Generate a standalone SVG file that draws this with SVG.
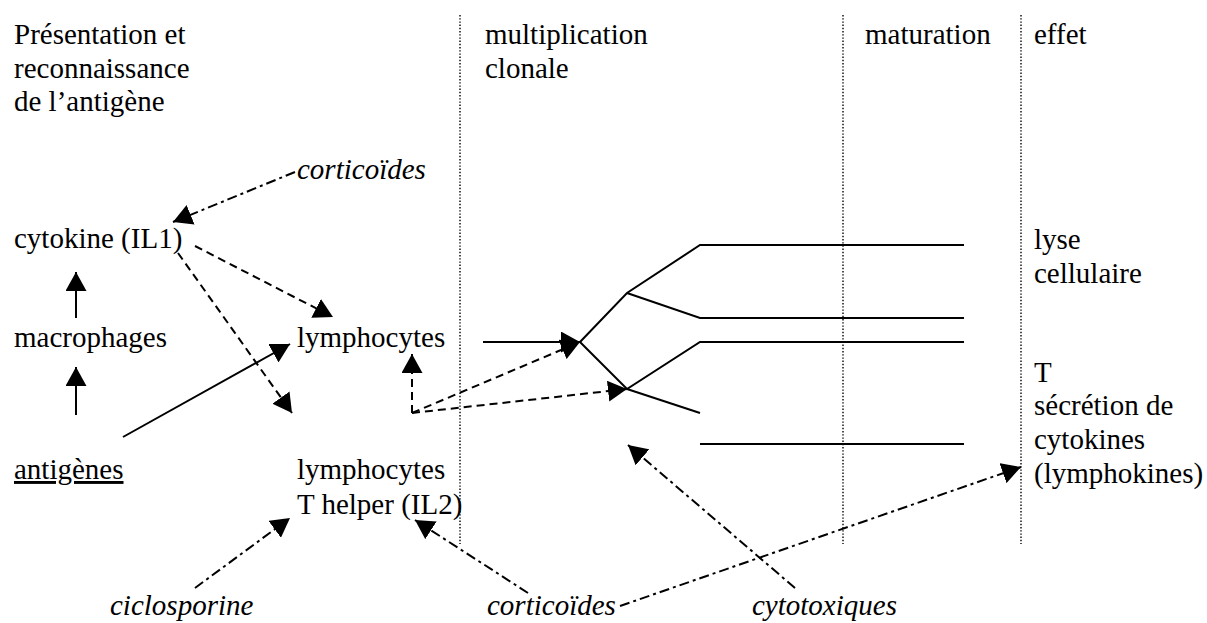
<svg xmlns="http://www.w3.org/2000/svg" width="1207" height="623" viewBox="0 0 1207 623">
<style>
text{font-family:"Liberation Serif","Times New Roman",serif;font-size:29px;fill:#000}
.it{font-style:italic}
.sol{stroke:#000;stroke-width:2;fill:none}
.dash{stroke:#000;stroke-width:2;fill:none;stroke-dasharray:8 5}
.dd{stroke:#000;stroke-width:2;fill:none;stroke-dasharray:10 4 3 4}
.dot{stroke:#000;stroke-width:1.4;fill:none;stroke-dasharray:1.4 1.8}
</style>
<defs>
<marker id="ah" viewBox="0 0 19 21" refX="19" refY="10.5" markerWidth="19" markerHeight="21" markerUnits="userSpaceOnUse" orient="auto">
<path d="M0,0 L19,10.5 L0,21 z" fill="#000"/>
</marker>
</defs>
<rect width="1207" height="623" fill="#fff"/>
<g id="columns">
<line class="dot" x1="460" y1="15" x2="460" y2="544"/>
<line class="dot" x1="843" y1="15" x2="843" y2="544"/>
<line class="dot" x1="1021" y1="15" x2="1021" y2="544"/>
<text x="14" y="44">Présentation et</text>
<text x="14" y="78">reconnaissance</text>
<text x="14" y="111">de l’antigène</text>
<text x="485" y="44">multiplication</text>
<text x="485" y="78">clonale</text>
<text x="865" y="44">maturation</text>
<text x="1034" y="44">effet</text>
</g>
<g id="n-cortico-top"><text class="it" x="297" y="179">corticoïdes</text></g>
<g id="n-cytokine"><text x="14" y="248">cytokine (IL1)</text></g>
<g id="n-macrophages"><text x="14" y="347">macrophages</text></g>
<g id="n-antigenes"><text x="14" y="479" text-decoration="underline">antigènes</text></g>
<g id="n-lymphocytes"><text x="297" y="347">lymphocytes</text></g>
<g id="n-thelper"><text x="297" y="479">lymphocytes</text><text x="297" y="514">T helper (IL2)</text></g>
<g id="n-ciclosporine"><text class="it" x="110" y="615">ciclosporine</text></g>
<g id="n-cortico-bottom"><text class="it" x="487" y="615">corticoïdes</text></g>
<g id="n-cytotoxiques"><text class="it" x="752" y="615">cytotoxiques</text></g>
<g id="n-lyse"><text x="1034" y="249">lyse</text><text x="1034" y="283">cellulaire</text></g>
<g id="n-secretion"><text x="1034" y="382">T</text><text x="1034" y="415">sécrétion de</text><text x="1034" y="449">cytokines</text><text x="1034" y="483">(lymphokines)</text></g>
<g id="connectors">
<line class="sol" x1="76" y1="318" x2="76" y2="272" marker-end="url(#ah)"/>
<line class="sol" x1="76" y1="415" x2="76" y2="367" marker-end="url(#ah)"/>
<line class="sol" x1="123" y1="437" x2="290" y2="344" marker-end="url(#ah)"/>
<line class="dd" x1="295" y1="172" x2="173" y2="222" marker-end="url(#ah)"/>
<line class="dash" x1="195" y1="246" x2="333" y2="317" marker-end="url(#ah)"/>
<line class="dash" x1="178" y1="253" x2="292" y2="413" marker-end="url(#ah)"/>
<line class="dash" x1="412" y1="413" x2="412" y2="354" marker-end="url(#ah)"/>
<line class="dash" x1="412" y1="413" x2="580" y2="342" marker-end="url(#ah)"/>
<line class="dash" x1="412" y1="413" x2="627" y2="389" marker-end="url(#ah)"/>
<line class="sol" x1="483" y1="342" x2="580" y2="342" marker-end="url(#ah)"/>
<polyline class="sol" points="580,342 627,293 700,245 964,245"/>
<polyline class="sol" points="627,293 700,318 964,318"/>
<polyline class="sol" points="580,342 627,389 700,342 964,342"/>
<line class="sol" x1="627" y1="389" x2="700" y2="413"/>
<line class="sol" x1="700" y1="444" x2="964" y2="444"/>
<line class="dd" x1="795" y1="588" x2="628" y2="445" marker-end="url(#ah)"/>
<line class="dd" x1="528" y1="593" x2="415" y2="520" marker-end="url(#ah)"/>
<line class="dd" x1="620" y1="606" x2="1021" y2="467" marker-end="url(#ah)"/>
<line class="dd" x1="195" y1="588" x2="290" y2="518" marker-end="url(#ah)"/>
</g>
</svg>
